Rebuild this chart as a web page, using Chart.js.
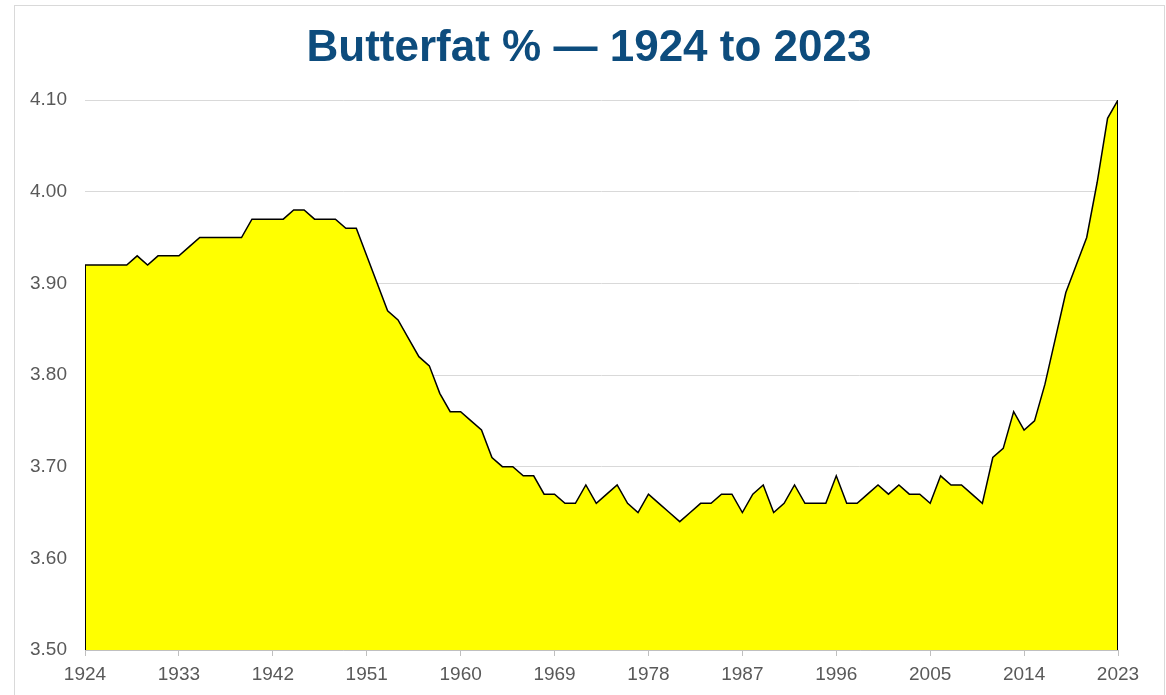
<!DOCTYPE html>
<html>
<head>
<meta charset="utf-8">
<title>Butterfat % 1924 to 2023</title>
<script src="https://cdn.jsdelivr.net/npm/chart.js@4.4.0/dist/chart.umd.min.js"></script>
<style>
  html, body { margin: 0; padding: 0; background: #fff; }
  #wrap { position: relative; width: 1166px; height: 695px; overflow: hidden; }
  #frame { position: absolute; left: 14px; top: 5px; width: 1149px; height: 700px; border: 1px solid #d9d9d9; pointer-events: none; }
  #title {
    position: absolute; left: 14px; top: 21px; width: 1150px;
    text-align: center; line-height: 52px;
    font: bold 44px "Liberation Sans", Arial, sans-serif; color: #0d4c7d;
  }
</style>
</head>
<body>
<div id="wrap">
  <canvas id="chart" width="1166" height="695"></canvas>
  <div id="frame"></div>
  <div id="title"></div>
</div>
<script>
const titleText = 'Butterfat % \u2014 1924 to 2023';

const years = [
  1924, 1925, 1926, 1927, 1928, 1929, 1930, 1931, 1932, 1933,
  1934, 1935, 1936, 1937, 1938, 1939, 1940, 1941, 1942, 1943,
  1944, 1945, 1946, 1947, 1948, 1949, 1950, 1951, 1952, 1953,
  1954, 1955, 1956, 1957, 1958, 1959, 1960, 1961, 1962, 1963,
  1964, 1965, 1966, 1967, 1968, 1969, 1970, 1971, 1972, 1973,
  1974, 1975, 1976, 1977, 1978, 1979, 1980, 1981, 1982, 1983,
  1984, 1985, 1986, 1987, 1988, 1989, 1990, 1991, 1992, 1993,
  1994, 1995, 1996, 1997, 1998, 1999, 2000, 2001, 2002, 2003,
  2004, 2005, 2006, 2007, 2008, 2009, 2010, 2011, 2012, 2013,
  2014, 2015, 2016, 2017, 2018, 2019, 2020, 2021, 2022, 2023
];

const butterfat = [
  3.92, 3.92, 3.92, 3.92, 3.92, 3.93, 3.92, 3.93, 3.93, 3.93,
  3.94, 3.95, 3.95, 3.95, 3.95, 3.95, 3.97, 3.97, 3.97, 3.97,
  3.98, 3.98, 3.97, 3.97, 3.97, 3.96, 3.96, 3.93, 3.90, 3.87,
  3.86, 3.84, 3.82, 3.81, 3.78, 3.76, 3.76, 3.75, 3.74, 3.71,
  3.70, 3.70, 3.69, 3.69, 3.67, 3.67, 3.66, 3.66, 3.68, 3.66,
  3.67, 3.68, 3.66, 3.65, 3.67, 3.66, 3.65, 3.64, 3.65, 3.66,
  3.66, 3.67, 3.67, 3.65, 3.67, 3.68, 3.65, 3.66, 3.68, 3.66,
  3.66, 3.66, 3.69, 3.66, 3.66, 3.67, 3.68, 3.67, 3.68, 3.67,
  3.67, 3.66, 3.69, 3.68, 3.68, 3.67, 3.66, 3.71, 3.72, 3.76,
  3.74, 3.75, 3.79, 3.84, 3.89, 3.92, 3.95, 4.01, 4.08, 4.10
];

const tickYears = [1924, 1933, 1942, 1951, 1960, 1969, 1978, 1987, 1996, 2005, 2014, 2023];

const yMin = 3.5;
const yMax = 4.1;
const last = years.length - 1;

document.getElementById('title').textContent = titleText;

// side edges of the area outline, drawn on top of the fill
const edge = {
  borderColor: '#000000',
  borderWidth: 2,
  pointRadius: 0,
  fill: false,
  order: 0
};

new Chart(document.getElementById('chart'), {
  type: 'line',
  data: {
    datasets: [
      {
        data: years.map((yr, i) => ({ x: yr, y: butterfat[i] })),
        fill: 'start',
        backgroundColor: '#ffff00',
        borderColor: '#000000',
        borderWidth: 1.5,
        pointRadius: 0,
        tension: 0,
        order: 1
      },
      { ...edge, data: [{ x: years[0], y: yMin }, { x: years[0], y: butterfat[0] }] },
      { ...edge, data: [{ x: years[last], y: yMin }, { x: years[last], y: butterfat[last] }] }
    ]
  },
  options: {
    responsive: false,
    animation: false,
    layout: { padding: { left: 14, right: 48, top: 100, bottom: 0 } },
    plugins: {
      legend: { display: false },
      tooltip: { enabled: false },
      title: { display: false }
    },
    scales: {
      x: {
        type: 'linear',
        min: years[0],
        max: years[last],
        afterBuildTicks: axis => { axis.ticks = tickYears.map(v => ({ value: v })); },
        afterFit: axis => { axis.height = 45; },
        grid: { drawOnChartArea: false, tickLength: 6, color: '#bfbfbf' },
        border: { color: '#bfbfbf' },
        ticks: {
          color: '#595959',
          font: { family: '"Liberation Sans", Arial, sans-serif', size: 19 },
          padding: 7,
          maxRotation: 0,
          autoSkip: false,
          callback: v => String(v)
        }
      },
      y: {
        min: yMin,
        max: yMax,
        afterFit: axis => { axis.width = 71; },
        grid: { color: '#d9d9d9', drawTicks: false },
        border: { display: false },
        ticks: {
          stepSize: 0.1,
          color: '#595959',
          font: { family: '"Liberation Sans", Arial, sans-serif', size: 19 },
          padding: 18,
          callback: v => v.toFixed(2)
        }
      }
    }
  }
});
</script>
</body>
</html>
